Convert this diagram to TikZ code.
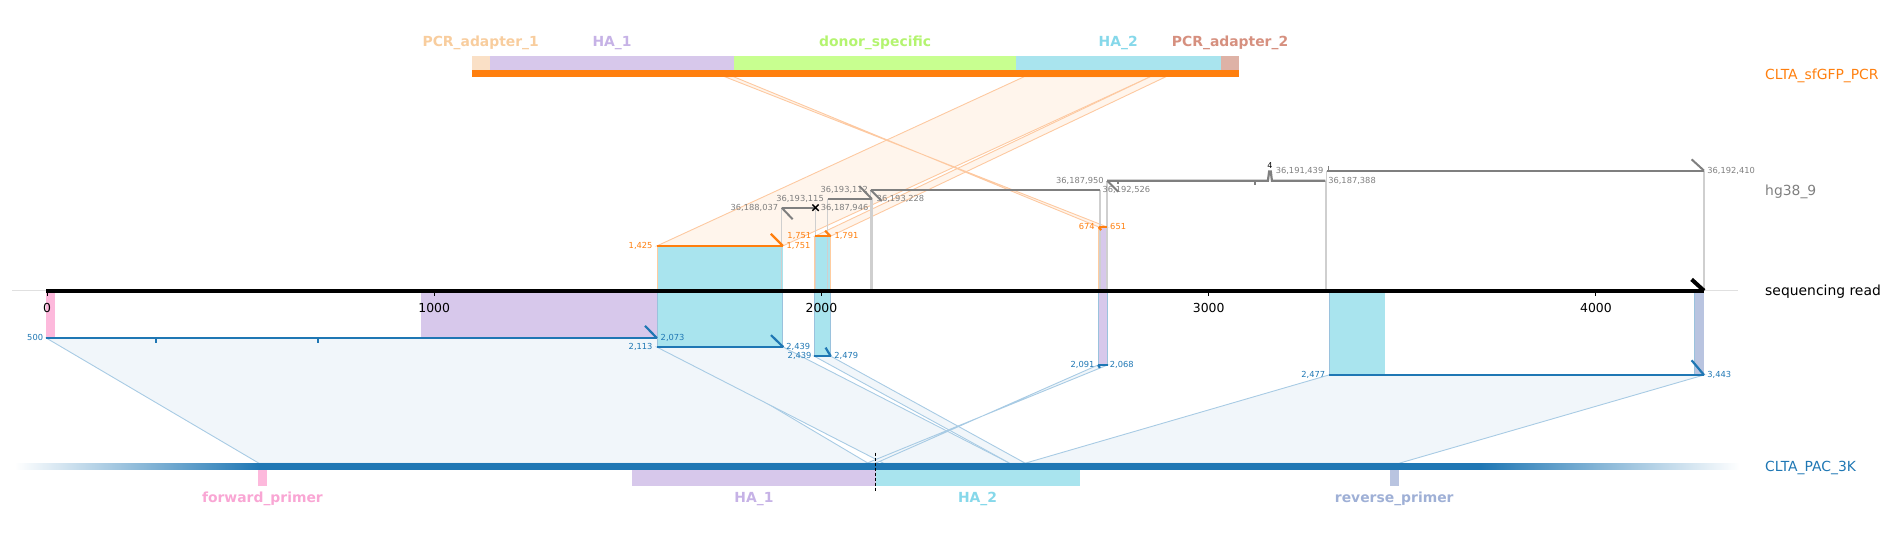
\documentclass[tikz,border=0pt]{standalone}
\usepackage{fontspec}
\setmainfont{DejaVu Sans}
\usetikzlibrary{calc}
\definecolor{tabblue}{HTML}{1F77B4}
\definecolor{taborange}{HTML}{FF7F0E}
\definecolor{tabgray}{HTML}{7F7F7F}
\definecolor{cyanfill}{HTML}{A9E4EE}
\definecolor{lavfill}{HTML}{D7C8EB}
\definecolor{pinkfill}{HTML}{FDB9DC}
\definecolor{rpfill}{HTML}{B9C4E0}
\definecolor{greenfill}{HTML}{C8FF90}
\definecolor{peachfill}{HTML}{FAE0C6}
\definecolor{rosefill}{HTML}{DEB2A6}
\definecolor{peachtxt}{HTML}{F8CD9E}
\definecolor{lavtxt}{HTML}{C6B2E6}
\definecolor{greentxt}{HTML}{B4F470}
\definecolor{cyantxt}{HTML}{86D8EA}
\definecolor{rosetxt}{HTML}{D6907F}
\definecolor{pinktxt}{HTML}{F9A6D4}
\definecolor{rptxt}{HTML}{9FB0D6}
\definecolor{ofanfill}{HTML}{FFF5EC}
\definecolor{ofanline}{HTML}{FDC9A1}
\definecolor{bfanfill}{HTML}{F1F6FA}
\definecolor{bfanline}{HTML}{A8CBE4}
\definecolor{vline}{HTML}{CFCFCF}
\begin{document}
\begin{tikzpicture}[x=1.2054pt,y=-1.2054pt,
  trk/.style={anchor=base west,inner sep=0pt,font=\fontsize{13.9}{16}\selectfont},
  feat/.style={anchor=base,inner sep=0pt,font=\fontsize{13.9}{16}\selectfont\bfseries},
  num/.style={inner sep=0pt,font=\fontsize{8.3}{10}\selectfont},
  numl/.style={num,anchor=mid east},
  numr/.style={num,anchor=mid west},
  tickl/.style={anchor=center,inner sep=0pt,font=\fontsize{12.4}{14}\selectfont},
  ofan/.style={fill=ofanfill,draw=ofanline,line width=0.9pt},
  bfan/.style={fill=bfanfill,draw=bfanline,line width=0.9pt},
  hgseg/.style={draw=tabgray,line width=2.2pt},
  hgtick/.style={draw=tabgray,line width=2pt},
  vdrop/.style={draw=vline,line width=1.4pt},
  oseg/.style={draw=taborange,line width=2.2pt},
  bseg/.style={draw=tabblue,line width=2.2pt},
  edgeup/.style={draw=taborange!40,line width=0.8pt},
  edgedn/.style={draw=tabblue!45,line width=0.8pt},
]
\useasboundingbox (0,0) rectangle (1568,450);

% ---------------- coordinates ----------------
\coordinate (T1425) at (849.8,63.6);
\coordinate (T1751) at (954.5,63.6);
\coordinate (T1791) at (967.4,63.6);
\coordinate (T674) at (608.5,63.6);
\coordinate (T651) at (601.1,63.6);
\coordinate (O1a) at (545,204);     \coordinate (O1b) at (649.5,204);
\coordinate (O2a) at (676,196);     \coordinate (O2b) at (689,196);
\coordinate (O3a) at (911.5,188.3); \coordinate (O3b) at (918.5,188.3);
\coordinate (U1a) at (38.5,280.5);  \coordinate (U1b) at (545,280.5);
\coordinate (U2a) at (545,288);     \coordinate (U2b) at (649.9,288);
\coordinate (U3a) at (675.5,295.5); \coordinate (U3b) at (689.2,295.5);
\coordinate (U4a) at (911,302.8);   \coordinate (U4b) at (918.9,302.8);
\coordinate (U5a) at (1102.5,311.1);\coordinate (U5b) at (1413.7,311.1);
\coordinate (P500) at (215,384.4);   \coordinate (P2073) at (720.4,384.4);
\coordinate (P2113) at (733.2,384.4);\coordinate (P2439) at (837.9,384.4);
\coordinate (P2479) at (850.8,384.4);\coordinate (P2091) at (726.1,384.4);
\coordinate (P2068) at (718.8,384.4);\coordinate (P2477) at (850.1,384.4);
\coordinate (P3443) at (1160.5,384.4);
\coordinate (ext0) at (10,241.2);   \coordinate (ext1) at (1442,241.2);
\coordinate (ax0) at (38.5,241.2);  \coordinate (ax1) at (1413.7,241.2);
% hg38 segments
\coordinate (A0) at (648.5,172.3);  \coordinate (A1) at (676.6,172.3);
\coordinate (B0) at (686.6,165.1);  \coordinate (B1) at (723.4,165.1);
\coordinate (C0) at (722.3,157.6);  \coordinate (C1) at (912.5,157.6);
\coordinate (D0) at (918.5,149.9);  \coordinate (D1) at (1099.6,149.9);
\coordinate (E0) at (1100.7,141.6); \coordinate (E1) at (1413.7,141.6);

% axis extension line
\draw[draw=black!12,line width=1pt] (ext0) -- (ext1);

% ---------------- fans ----------------
\path[ofan] (T1425) -- (T1751) -- (O1b) -- (O1a) -- cycle;
\path[ofan] (T1751) -- (T1791) -- (O2b) -- (O2a) -- cycle;
\path[ofan] (T674) -- (O3a) -- (O3b) -- (T651) -- cycle;

\path[bfan] (U1a) -- (U1b) -- (P2073) -- (P500) -- cycle;
\path[bfan] (U2a) -- (U2b) -- (P2439) -- (P2113) -- cycle;
\path[bfan] (U3a) -- (U3b) -- (P2479) -- (P2439) -- cycle;
\path[bfan] (U4a) -- (P2091) -- (P2068) -- (U4b) -- cycle;
\path[bfan] (U5a) -- (U5b) -- (P3443) -- (P2477) -- cycle;

% ---------------- feature highlights on read ----------------
\fill[pinkfill] (38.5,241.2) rectangle (45.9,280.5);
\fill[lavfill] (349.2,241.2) rectangle (545,280.5);
\fill[cyanfill] (545,204) rectangle (649.5,288);
\fill[cyanfill] (676,196) rectangle (689,295.5);
\fill[lavfill] (911.5,188.3) rectangle (918.5,302.8);
\fill[cyanfill] (1102.5,241.2) rectangle (1148.8,311.1);
\fill[rpfill] (1405.6,241.2) rectangle (1413.7,311.1);
\foreach \xx/\ya/\yb in {545/204/241.2, 676/196/241.2, 689/196/241.2, 911.5/188.3/241.2, 918.5/188.3/241.2}
  \draw[edgeup] (\xx,\ya) -- (\xx,\yb);
\foreach \xx/\yb in {545/288, 649.5/288, 676/295.5, 689/295.5, 911.5/302.8, 918.5/302.8, 1102.5/311.1, 1405.6/311.1}
  \draw[edgedn] (\xx,241.2) -- (\xx,\yb);

% ---------------- hg38 vertical drops ----------------
\foreach \p in {A0,A1,B0,B1,C0,C1,D0,D1,E0,E1}
  \draw[vdrop] (\p) -- (\p |- ax0);

% ---------------- hg38 segments ----------------
\draw[hgseg] (A0) -- (A1);
\draw[hgtick] (A0) -- ++(9.1,9.6);
\draw[black,line width=1.4pt] ($(A1)+(-2.6,-2.6)$) -- ($(A1)+(2.6,2.6)$);
\draw[black,line width=1.4pt] ($(A1)+(-2.6,2.6)$) -- ($(A1)+(2.6,-2.6)$);
\draw[hgseg] (B0) -- (B1);
\draw[hgtick] (B1) -- ++(-10.5,-10.8);
\draw[hgseg] (C0) -- (C1);
\draw[hgtick] (C0) -- ++(9.2,9.2);
\draw[hgseg] (D0) -- (1051.9,149.9) -- (1052.9,142.3) -- (1054.3,142.3) -- (1055.2,149.9) -- (D1);
\draw[hgtick] (D0) -- ++(9.2,9.2);
\draw[hgtick,line width=1.6pt] (927.7,149.9) -- (927.7,152.8);
\draw[hgtick,line width=1.6pt] (1041.4,149.9) -- (1041.4,153.6);
\node[inner sep=0pt,font=\fontsize{8}{9}\selectfont] (ins4) at (1053.6,137.6) {4};
\draw[hgseg] (E0) -- (E1);
\draw[hgtick] (E1) -- ++(-10.3,-9.4);
\draw[hgtick,line width=1.4pt] (1102.2,137.6) -- (1102.2,141.6);

\begin{scope}[every node/.append style={text=tabgray}]
\node[numl] (lA0) at (645.7,172.3) {36,188,037};
\node[numr] (lA1) at (680.8,172.3) {36,187,946};
\node[numl] (lB0) at (683.6,165.1) {36,193,115};
\node[numr] (lB1) at (727.2,165.1) {36,193,228};
\node[numl] (lC0) at (720.3,157.6) {36,193,112};
\node[numr] (lC1) at (914.6,157.6) {36,192,526};
\node[numl] (lD0) at (915.8,149.9) {36,187,950};
\node[numr] (lD1) at (1101.8,149.9) {36,187,388};
\node[numl] (lE0) at (1098,141.6) {36,191,439};
\node[numr] (lE1) at (1416.3,141.6) {36,192,410};
\end{scope}

% ---------------- orange marks on read ----------------
\draw[oseg] (O1a) -- (O1b);
\draw[oseg] (O1b) -- ++(-10,-10);
\draw[oseg] (O2a) -- (O2b);
\draw[oseg] (O2b) -- ++(-4.5,-4.6);
\draw[oseg] (O3a) -- (O3b);
\draw[oseg] (O3a) -- ++(2,2.6);
\begin{scope}[every node/.append style={text=taborange}]
\node[numl] (lO1a) at (541.5,204) {1,425};
\node[numr] (lO1b) at (652.5,204) {1,751};
\node[numl] (lO2a) at (673.2,196) {1,751};
\node[numr] (lO2b) at (692.2,196) {1,791};
\node[numl] (lO3a) at (908.4,188.3) {674};
\node[numr] (lO3b) at (920.9,188.3) {651};
\end{scope}

% ---------------- blue marks on read ----------------
\draw[bseg] (U1a) -- (U1b);
\draw[bseg] (U1b) -- ++(-9.9,-10.2);
\draw[bseg,line width=1.8pt] (129.3,280.5) -- (129.3,284.6);
\draw[bseg,line width=1.8pt] (264.1,280.5) -- (264.1,284.6);
\draw[bseg] (U2a) -- (U2b);
\draw[bseg] (U2b) -- ++(-10.3,-10);
\draw[bseg] (U3a) -- (U3b);
\draw[bseg] (U3b) -- ++(-4.3,-7.1);
\draw[bseg] (U4a) -- (U4b);
\draw[bseg] (U4a) -- ++(1.5,2.4);
\draw[bseg] (U5a) -- (U5b);
\draw[bseg] (U5b) -- ++(-10.3,-12.2);
\begin{scope}[every node/.append style={text=tabblue}]
\node[numl] (lU1a) at (35.9,280.5) {500};
\node[numr] (lU1b) at (548,280.5) {2,073};
\node[numl] (lU2a) at (541.5,288) {2,113};
\node[numr] (lU2b) at (652.2,288) {2,439};
\node[numl] (lU3a) at (673.4,295.5) {2,439};
\node[numr] (lU3b) at (692.1,295.5) {2,479};
\node[numl] (lU4a) at (908.1,302.8) {2,091};
\node[numr] (lU4b) at (920.6,302.8) {2,068};
\node[numl] (lU5a) at (1099.6,311.1) {2,477};
\node[numr] (lU5b) at (1416.3,311.1) {3,443};
\end{scope}

% ---------------- sequencing read axis ----------------
\draw[black,line width=4pt] (ax0) -- (ax1);
\draw[black,line width=4pt] (ax1) -- ++(-10.3,-9.4);
\foreach \v/\lab in {0/0,1/1000,2/2000,3/3000,4/4000}{
  \draw[black,line width=1pt] (39+321.25*\v,242.5) -- (39+321.25*\v,245.6);
  \node[tickl] (tk\v) at (39+321.25*\v,255.6) {\lab};
}

% ---------------- top bar CLTA_sfGFP_PCR ----------------
\fill[peachfill] (391.4,46.5) rectangle (406.6,58.1);
\fill[lavfill] (406.6,46.5) rectangle (609,58.1);
\fill[greenfill] (609,46.5) rectangle (842.9,58.1);
\fill[cyanfill] (842.9,46.5) rectangle (1012.9,58.1);
\fill[rosefill] (1012.9,46.5) rectangle (1028.1,58.1);
\fill[taborange] (391.4,58.1) rectangle (1028.1,63.6);
\node[feat,text=peachtxt] (fPA1) at (398.8,38.6) {PCR\_adapter\_1};
\node[feat,text=lavtxt] (fHA1t) at (507.8,38.6) {HA\_1};
\node[feat,text=greentxt] (fDS) at (726,38.6) {donor\_specific};
\node[feat,text=cyantxt] (fHA2t) at (927.7,38.6) {HA\_2};
\node[feat,text=rosetxt] (fPA2) at (1020.5,38.6) {PCR\_adapter\_2};

% ---------------- bottom bar CLTA_PAC_3K ----------------
\shade[left color=white,right color=tabblue] (12.5,384.4) rectangle (215,389.9);
\fill[tabblue] (214.8,384.4) rectangle (1228.7,389.9);
\shade[left color=tabblue,right color=white] (1228.5,384.4) rectangle (1443,389.9);
\fill[pinkfill] (214.2,389.9) rectangle (221.2,402.9);
\fill[lavfill] (524.4,389.9) rectangle (726.5,402.9);
\fill[cyanfill] (726.5,389.9) rectangle (895.9,402.9);
\fill[rpfill] (1153.1,389.9) rectangle (1160.4,402.9);
\coordinate (cut0) at (726.5,375.5); \coordinate (cut1) at (726.5,407.1);
\draw[black,line width=1pt,dash pattern=on 3pt off 2pt] (cut0) -- (cut1);
\node[feat,text=pinktxt] (fFP) at (217.7,417) {forward\_primer};
\node[feat,text=lavtxt] (fHA1b) at (625.5,417) {HA\_1};
\node[feat,text=cyantxt] (fHA2b) at (811,417) {HA\_2};
\node[feat,text=rptxt] (fRP) at (1156.7,417) {reverse\_primer};

% ---------------- track labels ----------------
\node[trk,text=taborange] (tSF) at (1464.3,65.6) {CLTA\_sfGFP\_PCR};
\node[trk,text=tabgray] (tHG) at (1464.3,161.8) {hg38\_9};
\node[trk,text=black] (tRD) at (1464.3,245.3) {sequencing read};
\node[trk,text=tabblue] (tPAC) at (1464.3,391.3) {CLTA\_PAC\_3K};
\end{tikzpicture}
\end{document}
